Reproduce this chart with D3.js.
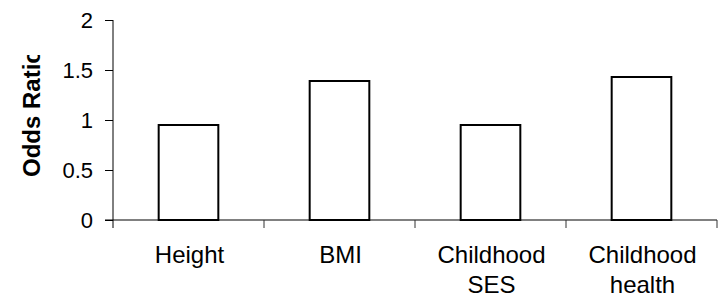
<!DOCTYPE html>
<html><head><meta charset="utf-8">
<script src="https://cdn.jsdelivr.net/npm/d3@7"></script>
<style>body{margin:0;background:#fff}svg{display:block}text{font-family:"Liberation Sans",Arial,sans-serif}</style>
</head><body>
<svg id="c" width="723" height="299"></svg>
<script>
const categories = ["Height", "BMI", "Childhood\nSES", "Childhood\nhealth"];
const oddsRatio = [0.95, 1.39, 0.95, 1.43];
const yTicks = [0, 0.5, 1, 1.5, 2];
const yTitle = "Odds Ratio";

const svg = d3.select("#c");
const L = 113, R = 717, T = 20, B = 220;
const pad = 0.605;
const x = d3.scaleBand().domain(categories).range([L, R]).paddingInner(pad).paddingOuter(pad / 2);
const y = d3.scaleLinear().domain([0, 2]).range([B, T]);

svg.append("defs").append("clipPath").attr("id", "tclip")
  .append("rect").attr("x", 0).attr("y", 55).attr("width", 100).attr("height", 244);

// bars
svg.selectAll("rect.bar").data(categories).join("rect").attr("class", "bar")
  .attr("x", d => x(d)).attr("width", x.bandwidth())
  .attr("y", (d, i) => y(oddsRatio[i])).attr("height", (d, i) => y(0) - y(oddsRatio[i]))
  .attr("fill", "#fff").attr("stroke", "#000").attr("stroke-width", 2);

// x axis line (gray)
svg.append("line").attr("x1", L - 8).attr("x2", R).attr("y1", y(0)).attr("y2", y(0))
  .attr("stroke", "#808080").attr("stroke-width", 2);
svg.selectAll("line.bb").data(categories).join("line").attr("class", "bb")
  .attr("x1", d => x(d) - 1).attr("x2", d => x(d) + x.bandwidth() + 1)
  .attr("y1", y(0)).attr("y2", y(0)).attr("stroke", "#000").attr("stroke-width", 2);

// x ticks at band boundaries
const bounds = categories.map(d => x(d) + x.bandwidth() + x.step() * pad / 2);
svg.selectAll("line.xt").data(bounds).join("line").attr("class", "xt")
  .attr("x1", d => d).attr("x2", d => d).attr("y1", y(0)).attr("y2", y(0) + 8)
  .attr("stroke", "#333").attr("stroke-width", 1);

// y axis
const yAxis = d3.axisLeft(y).tickValues(yTicks).tickSize(8).tickSizeOuter(0).tickPadding(12)
  .tickFormat(d => String(d));
const ga = svg.append("g").attr("transform", `translate(${L},0)`).call(yAxis);
ga.select(".domain").remove();
ga.selectAll(".tick line").attr("stroke", "#000").attr("stroke-width", 1);
ga.selectAll(".tick text").attr("font-size", 22).attr("fill", "#000")
  .attr("font-family", '"Liberation Sans",Arial,sans-serif');
svg.append("line").attr("x1", L).attr("x2", L).attr("y1", T).attr("y2", y(0) + 8)
  .attr("stroke", "#000").attr("stroke-width", 1);

// x labels
const xl = svg.selectAll("text.xl").data(categories).join("text").attr("class", "xl")
  .attr("text-anchor", "middle").attr("font-size", 24).attr("fill", "#000")
  .attr("transform", d => `translate(${x(d) + x.bandwidth() / 2 + 1},263)`);
xl.selectAll("tspan").data(d => d.split("\n")).join("tspan")
  .attr("x", 0).attr("y", (d, i) => i * 30).text(d => d);

// y title
svg.append("g").attr("clip-path", "url(#tclip)")
  .append("text").attr("transform", "translate(40,177) rotate(-90)")
  .attr("text-anchor", "start").attr("font-size", 24).attr("font-weight", "bold")
  .attr("fill", "#000").text(yTitle);
</script>
</body></html>
